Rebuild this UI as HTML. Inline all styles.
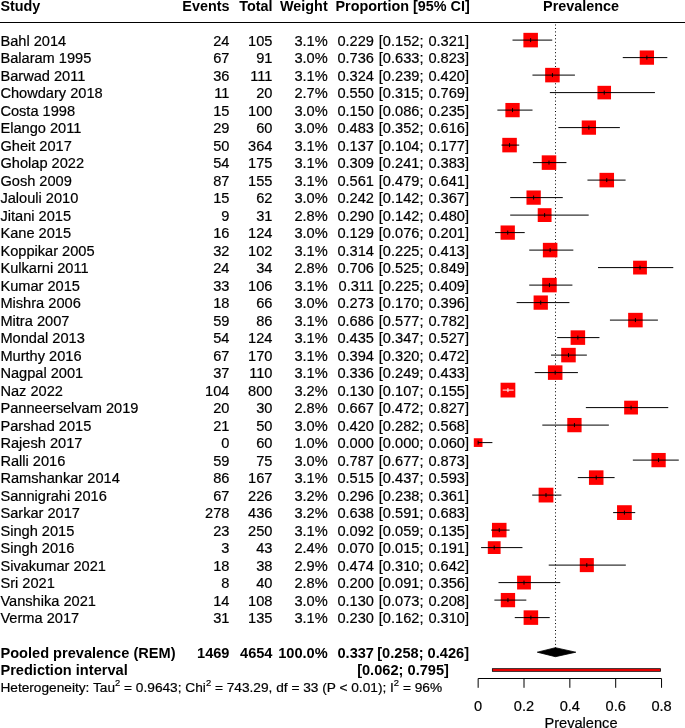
<!DOCTYPE html><html><head><meta charset="utf-8"><title>Forest plot</title>
<style>html,body{margin:0;padding:0;background:#fff}svg{display:block}text{font-family:"Liberation Sans",Arial,Helvetica,sans-serif;font-size:14.62px;fill:#000;stroke:#000;stroke-width:.2px}.b{font-weight:bold;font-size:15.1px;stroke:none}.e{text-anchor:end}.m{text-anchor:middle}</style></head><body>
<svg width="685" height="728" viewBox="0 0 685 728">
<rect width="685" height="728" fill="#fff"/>
<text class="b" transform="translate(0.4 10.8) scale(0.953 1)">Study</text>
<text class="b e" transform="translate(229.5 10.8) scale(0.953 1)">Events</text>
<text class="b e" transform="translate(272.5 10.8) scale(0.953 1)">Total</text>
<text class="b e" transform="translate(327.7 10.8) scale(0.953 1)">Weight</text>
<text class="b" transform="translate(335.5 10.8) scale(0.953 1)">Proportion [95% CI]</text>
<text class="b m" transform="translate(581 10.8) scale(0.953 1)">Prevalence</text>
<rect x="0" y="22" width="685" height="1" fill="#000"/>
<line x1="555.5" y1="24.5" x2="555.5" y2="648" stroke="#000" stroke-width="1" stroke-dasharray="1 2.46"/>
<text x="0.4" y="45.70">Bahl 2014</text>
<text class="e" x="229.5" y="45.70">24</text>
<text class="e" x="272.5" y="45.70">105</text>
<text class="e" x="327.7" y="45.70">3.1%</text>
<text class="e" x="374" y="45.70">0.229</text>
<text class="e" x="423.5" y="45.70">[0.152;</text>
<text class="e" x="469" y="45.70">0.321]</text>
<line x1="513.00" y1="40.10" x2="551.74" y2="40.10" stroke="#000" stroke-width="1" stroke-linecap="square"/>
<rect x="523.39" y="32.84" width="14.53" height="14.53" fill="#f00"/>
<line x1="523.39" y1="40.10" x2="537.91" y2="40.10" stroke="#000" stroke-width="1" opacity="1"/>
<line x1="530.65" y1="38.10" x2="530.65" y2="42.10" stroke="#000" stroke-width="1"/>
<text x="0.4" y="63.20">Balaram 1995</text>
<text class="e" x="229.5" y="63.20">67</text>
<text class="e" x="272.5" y="63.20">91</text>
<text class="e" x="327.7" y="63.20">3.0%</text>
<text class="e" x="374" y="63.20">0.736</text>
<text class="e" x="423.5" y="63.20">[0.633;</text>
<text class="e" x="469" y="63.20">0.823]</text>
<line x1="623.27" y1="57.60" x2="666.82" y2="57.60" stroke="#000" stroke-width="1" stroke-linecap="square"/>
<rect x="639.73" y="50.46" width="14.29" height="14.29" fill="#f00"/>
<line x1="639.73" y1="57.60" x2="654.02" y2="57.60" stroke="#000" stroke-width="1" opacity="1"/>
<line x1="646.88" y1="55.60" x2="646.88" y2="59.60" stroke="#000" stroke-width="1"/>
<text x="0.4" y="80.70">Barwad 2011</text>
<text class="e" x="229.5" y="80.70">36</text>
<text class="e" x="272.5" y="80.70">111</text>
<text class="e" x="327.7" y="80.70">3.1%</text>
<text class="e" x="374" y="80.70">0.324</text>
<text class="e" x="423.5" y="80.70">[0.239;</text>
<text class="e" x="469" y="80.70">0.420]</text>
<line x1="532.94" y1="75.10" x2="574.43" y2="75.10" stroke="#000" stroke-width="1" stroke-linecap="square"/>
<rect x="545.16" y="67.84" width="14.53" height="14.53" fill="#f00"/>
<line x1="545.16" y1="75.10" x2="559.69" y2="75.10" stroke="#000" stroke-width="1" opacity="1"/>
<line x1="552.43" y1="73.10" x2="552.43" y2="77.10" stroke="#000" stroke-width="1"/>
<text x="0.4" y="98.20">Chowdary 2018</text>
<text class="e" x="229.5" y="98.20">11</text>
<text class="e" x="272.5" y="98.20">20</text>
<text class="e" x="327.7" y="98.20">2.7%</text>
<text class="e" x="374" y="98.20">0.550</text>
<text class="e" x="423.5" y="98.20">[0.315;</text>
<text class="e" x="469" y="98.20">0.769]</text>
<line x1="550.36" y1="92.60" x2="654.44" y2="92.60" stroke="#000" stroke-width="1" stroke-linecap="square"/>
<rect x="597.46" y="85.82" width="13.56" height="13.56" fill="#f00"/>
<line x1="597.46" y1="92.60" x2="611.02" y2="92.60" stroke="#000" stroke-width="1" opacity="1"/>
<line x1="604.24" y1="90.60" x2="604.24" y2="94.60" stroke="#000" stroke-width="1"/>
<text x="0.4" y="115.70">Costa 1998</text>
<text class="e" x="229.5" y="115.70">15</text>
<text class="e" x="272.5" y="115.70">100</text>
<text class="e" x="327.7" y="115.70">3.0%</text>
<text class="e" x="374" y="115.70">0.150</text>
<text class="e" x="423.5" y="115.70">[0.086;</text>
<text class="e" x="469" y="115.70">0.235]</text>
<line x1="497.87" y1="110.10" x2="532.02" y2="110.10" stroke="#000" stroke-width="1" stroke-linecap="square"/>
<rect x="505.39" y="102.96" width="14.29" height="14.29" fill="#f00"/>
<line x1="505.39" y1="110.10" x2="519.68" y2="110.10" stroke="#000" stroke-width="1" opacity="1"/>
<line x1="512.54" y1="108.10" x2="512.54" y2="112.10" stroke="#000" stroke-width="1"/>
<text x="0.4" y="133.20">Elango 2011</text>
<text class="e" x="229.5" y="133.20">29</text>
<text class="e" x="272.5" y="133.20">60</text>
<text class="e" x="327.7" y="133.20">3.0%</text>
<text class="e" x="374" y="133.20">0.483</text>
<text class="e" x="423.5" y="133.20">[0.352;</text>
<text class="e" x="469" y="133.20">0.616]</text>
<line x1="558.85" y1="127.60" x2="619.37" y2="127.60" stroke="#000" stroke-width="1" stroke-linecap="square"/>
<rect x="581.73" y="120.46" width="14.29" height="14.29" fill="#f00"/>
<line x1="581.73" y1="127.60" x2="596.02" y2="127.60" stroke="#000" stroke-width="1" opacity="1"/>
<line x1="588.88" y1="125.60" x2="588.88" y2="129.60" stroke="#000" stroke-width="1"/>
<text x="0.4" y="150.70">Gheit 2017</text>
<text class="e" x="229.5" y="150.70">50</text>
<text class="e" x="272.5" y="150.70">364</text>
<text class="e" x="327.7" y="150.70">3.1%</text>
<text class="e" x="374" y="150.70">0.137</text>
<text class="e" x="423.5" y="150.70">[0.104;</text>
<text class="e" x="469" y="150.70">0.177]</text>
<line x1="501.99" y1="145.10" x2="518.73" y2="145.10" stroke="#000" stroke-width="1" stroke-linecap="square"/>
<rect x="502.29" y="137.84" width="14.53" height="14.53" fill="#f00"/>
<line x1="502.29" y1="145.10" x2="516.82" y2="145.10" stroke="#000" stroke-width="1" opacity="1"/>
<line x1="509.56" y1="143.10" x2="509.56" y2="147.10" stroke="#000" stroke-width="1"/>
<text x="0.4" y="168.20">Gholap 2022</text>
<text class="e" x="229.5" y="168.20">54</text>
<text class="e" x="272.5" y="168.20">175</text>
<text class="e" x="327.7" y="168.20">3.1%</text>
<text class="e" x="374" y="168.20">0.309</text>
<text class="e" x="423.5" y="168.20">[0.241;</text>
<text class="e" x="469" y="168.20">0.383]</text>
<line x1="533.40" y1="162.60" x2="565.95" y2="162.60" stroke="#000" stroke-width="1" stroke-linecap="square"/>
<rect x="541.73" y="155.34" width="14.53" height="14.53" fill="#f00"/>
<line x1="541.73" y1="162.60" x2="556.25" y2="162.60" stroke="#000" stroke-width="1" opacity="1"/>
<line x1="548.99" y1="160.60" x2="548.99" y2="164.60" stroke="#000" stroke-width="1"/>
<text x="0.4" y="185.70">Gosh 2009</text>
<text class="e" x="229.5" y="185.70">87</text>
<text class="e" x="272.5" y="185.70">155</text>
<text class="e" x="327.7" y="185.70">3.1%</text>
<text class="e" x="374" y="185.70">0.561</text>
<text class="e" x="423.5" y="185.70">[0.479;</text>
<text class="e" x="469" y="185.70">0.641]</text>
<line x1="587.96" y1="180.10" x2="625.10" y2="180.10" stroke="#000" stroke-width="1" stroke-linecap="square"/>
<rect x="599.50" y="172.84" width="14.53" height="14.53" fill="#f00"/>
<line x1="599.50" y1="180.10" x2="614.02" y2="180.10" stroke="#000" stroke-width="1" opacity="1"/>
<line x1="606.76" y1="178.10" x2="606.76" y2="182.10" stroke="#000" stroke-width="1"/>
<text x="0.4" y="203.20">Jalouli 2010</text>
<text class="e" x="229.5" y="203.20">15</text>
<text class="e" x="272.5" y="203.20">62</text>
<text class="e" x="327.7" y="203.20">3.0%</text>
<text class="e" x="374" y="203.20">0.242</text>
<text class="e" x="423.5" y="203.20">[0.142;</text>
<text class="e" x="469" y="203.20">0.367]</text>
<line x1="510.70" y1="197.60" x2="562.28" y2="197.60" stroke="#000" stroke-width="1" stroke-linecap="square"/>
<rect x="526.48" y="190.46" width="14.29" height="14.29" fill="#f00"/>
<line x1="526.48" y1="197.60" x2="540.77" y2="197.60" stroke="#000" stroke-width="1" opacity="1"/>
<line x1="533.63" y1="195.60" x2="533.63" y2="199.60" stroke="#000" stroke-width="1"/>
<text x="0.4" y="220.70">Jitani 2015</text>
<text class="e" x="229.5" y="220.70">9</text>
<text class="e" x="272.5" y="220.70">31</text>
<text class="e" x="327.7" y="220.70">2.8%</text>
<text class="e" x="374" y="220.70">0.290</text>
<text class="e" x="423.5" y="220.70">[0.142;</text>
<text class="e" x="469" y="220.70">0.480]</text>
<line x1="510.70" y1="215.10" x2="588.19" y2="215.10" stroke="#000" stroke-width="1" stroke-linecap="square"/>
<rect x="537.73" y="208.20" width="13.80" height="13.80" fill="#f00"/>
<line x1="537.73" y1="215.10" x2="551.53" y2="215.10" stroke="#000" stroke-width="1" opacity="1"/>
<line x1="544.63" y1="213.10" x2="544.63" y2="217.10" stroke="#000" stroke-width="1"/>
<text x="0.4" y="238.20">Kane 2015</text>
<text class="e" x="229.5" y="238.20">16</text>
<text class="e" x="272.5" y="238.20">124</text>
<text class="e" x="327.7" y="238.20">3.0%</text>
<text class="e" x="374" y="238.20">0.129</text>
<text class="e" x="423.5" y="238.20">[0.076;</text>
<text class="e" x="469" y="238.20">0.201]</text>
<line x1="495.57" y1="232.60" x2="524.23" y2="232.60" stroke="#000" stroke-width="1" stroke-linecap="square"/>
<rect x="500.58" y="225.46" width="14.29" height="14.29" fill="#f00"/>
<line x1="500.58" y1="232.60" x2="514.87" y2="232.60" stroke="#000" stroke-width="1" opacity="1"/>
<line x1="507.72" y1="230.60" x2="507.72" y2="234.60" stroke="#000" stroke-width="1"/>
<text x="0.4" y="255.70">Koppikar 2005</text>
<text class="e" x="229.5" y="255.70">32</text>
<text class="e" x="272.5" y="255.70">102</text>
<text class="e" x="327.7" y="255.70">3.1%</text>
<text class="e" x="374" y="255.70">0.314</text>
<text class="e" x="423.5" y="255.70">[0.225;</text>
<text class="e" x="469" y="255.70">0.413]</text>
<line x1="529.73" y1="250.10" x2="572.83" y2="250.10" stroke="#000" stroke-width="1" stroke-linecap="square"/>
<rect x="542.87" y="242.84" width="14.53" height="14.53" fill="#f00"/>
<line x1="542.87" y1="250.10" x2="557.40" y2="250.10" stroke="#000" stroke-width="1" opacity="1"/>
<line x1="550.13" y1="248.10" x2="550.13" y2="252.10" stroke="#000" stroke-width="1"/>
<text x="0.4" y="273.20">Kulkarni 2011</text>
<text class="e" x="229.5" y="273.20">24</text>
<text class="e" x="272.5" y="273.20">34</text>
<text class="e" x="327.7" y="273.20">2.8%</text>
<text class="e" x="374" y="273.20">0.706</text>
<text class="e" x="423.5" y="273.20">[0.525;</text>
<text class="e" x="469" y="273.20">0.849]</text>
<line x1="598.51" y1="267.60" x2="672.78" y2="267.60" stroke="#000" stroke-width="1" stroke-linecap="square"/>
<rect x="633.10" y="260.70" width="13.80" height="13.80" fill="#f00"/>
<line x1="633.10" y1="267.60" x2="646.90" y2="267.60" stroke="#000" stroke-width="1" opacity="1"/>
<line x1="640.00" y1="265.60" x2="640.00" y2="269.60" stroke="#000" stroke-width="1"/>
<text x="0.4" y="290.70">Kumar 2015</text>
<text class="e" x="229.5" y="290.70">33</text>
<text class="e" x="272.5" y="290.70">106</text>
<text class="e" x="327.7" y="290.70">3.1%</text>
<text class="e" x="374" y="290.70">0.311</text>
<text class="e" x="423.5" y="290.70">[0.225;</text>
<text class="e" x="469" y="290.70">0.409]</text>
<line x1="529.73" y1="285.10" x2="571.91" y2="285.10" stroke="#000" stroke-width="1" stroke-linecap="square"/>
<rect x="542.18" y="277.84" width="14.53" height="14.53" fill="#f00"/>
<line x1="542.18" y1="285.10" x2="556.71" y2="285.10" stroke="#000" stroke-width="1" opacity="1"/>
<line x1="549.45" y1="283.10" x2="549.45" y2="287.10" stroke="#000" stroke-width="1"/>
<text x="0.4" y="308.20">Mishra 2006</text>
<text class="e" x="229.5" y="308.20">18</text>
<text class="e" x="272.5" y="308.20">66</text>
<text class="e" x="327.7" y="308.20">3.0%</text>
<text class="e" x="374" y="308.20">0.273</text>
<text class="e" x="423.5" y="308.20">[0.170;</text>
<text class="e" x="469" y="308.20">0.396]</text>
<line x1="517.12" y1="302.60" x2="568.93" y2="302.60" stroke="#000" stroke-width="1" stroke-linecap="square"/>
<rect x="533.59" y="295.46" width="14.29" height="14.29" fill="#f00"/>
<line x1="533.59" y1="302.60" x2="547.88" y2="302.60" stroke="#000" stroke-width="1" opacity="1"/>
<line x1="540.74" y1="300.60" x2="540.74" y2="304.60" stroke="#000" stroke-width="1"/>
<text x="0.4" y="325.70">Mitra 2007</text>
<text class="e" x="229.5" y="325.70">59</text>
<text class="e" x="272.5" y="325.70">86</text>
<text class="e" x="327.7" y="325.70">3.1%</text>
<text class="e" x="374" y="325.70">0.686</text>
<text class="e" x="423.5" y="325.70">[0.577;</text>
<text class="e" x="469" y="325.70">0.782]</text>
<line x1="610.43" y1="320.10" x2="657.42" y2="320.10" stroke="#000" stroke-width="1" stroke-linecap="square"/>
<rect x="628.15" y="312.84" width="14.53" height="14.53" fill="#f00"/>
<line x1="628.15" y1="320.10" x2="642.68" y2="320.10" stroke="#000" stroke-width="1" opacity="1"/>
<line x1="635.42" y1="318.10" x2="635.42" y2="322.10" stroke="#000" stroke-width="1"/>
<text x="0.4" y="343.20">Mondal 2013</text>
<text class="e" x="229.5" y="343.20">54</text>
<text class="e" x="272.5" y="343.20">124</text>
<text class="e" x="327.7" y="343.20">3.1%</text>
<text class="e" x="374" y="343.20">0.435</text>
<text class="e" x="423.5" y="343.20">[0.347;</text>
<text class="e" x="469" y="343.20">0.527]</text>
<line x1="557.70" y1="337.60" x2="598.96" y2="337.60" stroke="#000" stroke-width="1" stroke-linecap="square"/>
<rect x="570.61" y="330.34" width="14.53" height="14.53" fill="#f00"/>
<line x1="570.61" y1="337.60" x2="585.14" y2="337.60" stroke="#000" stroke-width="1" opacity="1"/>
<line x1="577.87" y1="335.60" x2="577.87" y2="339.60" stroke="#000" stroke-width="1"/>
<text x="0.4" y="360.70">Murthy 2016</text>
<text class="e" x="229.5" y="360.70">67</text>
<text class="e" x="272.5" y="360.70">170</text>
<text class="e" x="327.7" y="360.70">3.1%</text>
<text class="e" x="374" y="360.70">0.394</text>
<text class="e" x="423.5" y="360.70">[0.320;</text>
<text class="e" x="469" y="360.70">0.472]</text>
<line x1="551.51" y1="355.10" x2="586.36" y2="355.10" stroke="#000" stroke-width="1" stroke-linecap="square"/>
<rect x="561.21" y="347.84" width="14.53" height="14.53" fill="#f00"/>
<line x1="561.21" y1="355.10" x2="575.74" y2="355.10" stroke="#000" stroke-width="1" opacity="1"/>
<line x1="568.47" y1="353.10" x2="568.47" y2="357.10" stroke="#000" stroke-width="1"/>
<text x="0.4" y="378.20">Nagpal 2001</text>
<text class="e" x="229.5" y="378.20">37</text>
<text class="e" x="272.5" y="378.20">110</text>
<text class="e" x="327.7" y="378.20">3.1%</text>
<text class="e" x="374" y="378.20">0.336</text>
<text class="e" x="423.5" y="378.20">[0.249;</text>
<text class="e" x="469" y="378.20">0.433]</text>
<line x1="535.23" y1="372.60" x2="577.42" y2="372.60" stroke="#000" stroke-width="1" stroke-linecap="square"/>
<rect x="547.92" y="365.34" width="14.53" height="14.53" fill="#f00"/>
<line x1="547.92" y1="372.60" x2="562.44" y2="372.60" stroke="#000" stroke-width="1" opacity="1"/>
<line x1="555.18" y1="370.60" x2="555.18" y2="374.60" stroke="#000" stroke-width="1"/>
<text x="0.4" y="395.70">Naz 2022</text>
<text class="e" x="229.5" y="395.70">104</text>
<text class="e" x="272.5" y="395.70">800</text>
<text class="e" x="327.7" y="395.70">3.2%</text>
<text class="e" x="374" y="395.70">0.130</text>
<text class="e" x="423.5" y="395.70">[0.107;</text>
<text class="e" x="469" y="395.70">0.155]</text>
<line x1="502.68" y1="390.10" x2="513.68" y2="390.10" stroke="#000" stroke-width="1" stroke-linecap="square"/>
<rect x="500.57" y="382.72" width="14.76" height="14.76" fill="#f00"/>
<line x1="502.68" y1="390.10" x2="513.68" y2="390.10" stroke="#fff" stroke-width="1"/>
<line x1="507.95" y1="388.10" x2="507.95" y2="392.10" stroke="#fff" stroke-width="1"/>
<text x="0.4" y="413.20">Panneerselvam 2019</text>
<text class="e" x="229.5" y="413.20">20</text>
<text class="e" x="272.5" y="413.20">30</text>
<text class="e" x="327.7" y="413.20">2.8%</text>
<text class="e" x="374" y="413.20">0.667</text>
<text class="e" x="423.5" y="413.20">[0.472;</text>
<text class="e" x="469" y="413.20">0.827]</text>
<line x1="586.36" y1="407.60" x2="667.74" y2="407.60" stroke="#000" stroke-width="1" stroke-linecap="square"/>
<rect x="624.16" y="400.70" width="13.80" height="13.80" fill="#f00"/>
<line x1="624.16" y1="407.60" x2="637.96" y2="407.60" stroke="#000" stroke-width="1" opacity="1"/>
<line x1="631.06" y1="405.60" x2="631.06" y2="409.60" stroke="#000" stroke-width="1"/>
<text x="0.4" y="430.70">Parshad 2015</text>
<text class="e" x="229.5" y="430.70">21</text>
<text class="e" x="272.5" y="430.70">50</text>
<text class="e" x="327.7" y="430.70">3.0%</text>
<text class="e" x="374" y="430.70">0.420</text>
<text class="e" x="423.5" y="430.70">[0.282;</text>
<text class="e" x="469" y="430.70">0.568]</text>
<line x1="542.80" y1="425.10" x2="608.36" y2="425.10" stroke="#000" stroke-width="1" stroke-linecap="square"/>
<rect x="567.29" y="417.96" width="14.29" height="14.29" fill="#f00"/>
<line x1="567.29" y1="425.10" x2="581.58" y2="425.10" stroke="#000" stroke-width="1" opacity="1"/>
<line x1="574.43" y1="423.10" x2="574.43" y2="427.10" stroke="#000" stroke-width="1"/>
<text x="0.4" y="448.20">Rajesh 2017</text>
<text class="e" x="229.5" y="448.20">0</text>
<text class="e" x="272.5" y="448.20">60</text>
<text class="e" x="327.7" y="448.20">1.0%</text>
<text class="e" x="374" y="448.20">0.000</text>
<text class="e" x="423.5" y="448.20">[0.000;</text>
<text class="e" x="469" y="448.20">0.060]</text>
<line x1="478.15" y1="442.60" x2="491.90" y2="442.60" stroke="#000" stroke-width="1" stroke-linecap="square"/>
<rect x="473.80" y="438.25" width="8.70" height="8.70" fill="#f00"/>
<line x1="478.15" y1="442.60" x2="482.50" y2="442.60" stroke="#000" stroke-width="1" opacity="1"/>
<line x1="478.15" y1="440.60" x2="478.15" y2="444.60" stroke="#000" stroke-width="1"/>
<text x="0.4" y="465.70">Ralli 2016</text>
<text class="e" x="229.5" y="465.70">59</text>
<text class="e" x="272.5" y="465.70">75</text>
<text class="e" x="327.7" y="465.70">3.0%</text>
<text class="e" x="374" y="465.70">0.787</text>
<text class="e" x="423.5" y="465.70">[0.677;</text>
<text class="e" x="469" y="465.70">0.873]</text>
<line x1="633.35" y1="460.10" x2="678.29" y2="460.10" stroke="#000" stroke-width="1" stroke-linecap="square"/>
<rect x="651.43" y="452.96" width="14.29" height="14.29" fill="#f00"/>
<line x1="651.43" y1="460.10" x2="665.71" y2="460.10" stroke="#000" stroke-width="1" opacity="1"/>
<line x1="658.57" y1="458.10" x2="658.57" y2="462.10" stroke="#000" stroke-width="1"/>
<text x="0.4" y="483.20">Ramshankar 2014</text>
<text class="e" x="229.5" y="483.20">86</text>
<text class="e" x="272.5" y="483.20">167</text>
<text class="e" x="327.7" y="483.20">3.1%</text>
<text class="e" x="374" y="483.20">0.515</text>
<text class="e" x="423.5" y="483.20">[0.437;</text>
<text class="e" x="469" y="483.20">0.593]</text>
<line x1="578.33" y1="477.60" x2="614.10" y2="477.60" stroke="#000" stroke-width="1" stroke-linecap="square"/>
<rect x="588.95" y="470.34" width="14.53" height="14.53" fill="#f00"/>
<line x1="588.95" y1="477.60" x2="603.48" y2="477.60" stroke="#000" stroke-width="1" opacity="1"/>
<line x1="596.21" y1="475.60" x2="596.21" y2="479.60" stroke="#000" stroke-width="1"/>
<text x="0.4" y="500.70">Sannigrahi 2016</text>
<text class="e" x="229.5" y="500.70">67</text>
<text class="e" x="272.5" y="500.70">226</text>
<text class="e" x="327.7" y="500.70">3.2%</text>
<text class="e" x="374" y="500.70">0.296</text>
<text class="e" x="423.5" y="500.70">[0.238;</text>
<text class="e" x="469" y="500.70">0.361]</text>
<line x1="532.71" y1="495.10" x2="560.91" y2="495.10" stroke="#000" stroke-width="1" stroke-linecap="square"/>
<rect x="538.63" y="487.72" width="14.76" height="14.76" fill="#f00"/>
<line x1="538.63" y1="495.10" x2="553.39" y2="495.10" stroke="#000" stroke-width="1" opacity="1"/>
<line x1="546.01" y1="493.10" x2="546.01" y2="497.10" stroke="#000" stroke-width="1"/>
<text x="0.4" y="518.20">Sarkar 2017</text>
<text class="e" x="229.5" y="518.20">278</text>
<text class="e" x="272.5" y="518.20">436</text>
<text class="e" x="327.7" y="518.20">3.2%</text>
<text class="e" x="374" y="518.20">0.638</text>
<text class="e" x="423.5" y="518.20">[0.591;</text>
<text class="e" x="469" y="518.20">0.683]</text>
<line x1="613.64" y1="512.60" x2="634.73" y2="512.60" stroke="#000" stroke-width="1" stroke-linecap="square"/>
<rect x="617.03" y="505.22" width="14.76" height="14.76" fill="#f00"/>
<line x1="617.03" y1="512.60" x2="631.79" y2="512.60" stroke="#000" stroke-width="1" opacity="1"/>
<line x1="624.41" y1="510.60" x2="624.41" y2="514.60" stroke="#000" stroke-width="1"/>
<text x="0.4" y="535.70">Singh 2015</text>
<text class="e" x="229.5" y="535.70">23</text>
<text class="e" x="272.5" y="535.70">250</text>
<text class="e" x="327.7" y="535.70">3.1%</text>
<text class="e" x="374" y="535.70">0.092</text>
<text class="e" x="423.5" y="535.70">[0.059;</text>
<text class="e" x="469" y="535.70">0.135]</text>
<line x1="491.68" y1="530.10" x2="509.10" y2="530.10" stroke="#000" stroke-width="1" stroke-linecap="square"/>
<rect x="491.98" y="522.84" width="14.53" height="14.53" fill="#f00"/>
<line x1="491.98" y1="530.10" x2="506.50" y2="530.10" stroke="#000" stroke-width="1" opacity="1"/>
<line x1="499.24" y1="528.10" x2="499.24" y2="532.10" stroke="#000" stroke-width="1"/>
<text x="0.4" y="553.20">Singh 2016</text>
<text class="e" x="229.5" y="553.20">3</text>
<text class="e" x="272.5" y="553.20">43</text>
<text class="e" x="327.7" y="553.20">2.4%</text>
<text class="e" x="374" y="553.20">0.070</text>
<text class="e" x="423.5" y="553.20">[0.015;</text>
<text class="e" x="469" y="553.20">0.191]</text>
<line x1="481.59" y1="547.60" x2="521.94" y2="547.60" stroke="#000" stroke-width="1" stroke-linecap="square"/>
<rect x="487.81" y="541.21" width="12.78" height="12.78" fill="#f00"/>
<line x1="487.81" y1="547.60" x2="500.59" y2="547.60" stroke="#000" stroke-width="1" opacity="1"/>
<line x1="494.20" y1="545.60" x2="494.20" y2="549.60" stroke="#000" stroke-width="1"/>
<text x="0.4" y="570.70">Sivakumar 2021</text>
<text class="e" x="229.5" y="570.70">18</text>
<text class="e" x="272.5" y="570.70">38</text>
<text class="e" x="327.7" y="570.70">2.9%</text>
<text class="e" x="374" y="570.70">0.474</text>
<text class="e" x="423.5" y="570.70">[0.310;</text>
<text class="e" x="469" y="570.70">0.642]</text>
<line x1="549.22" y1="565.10" x2="625.33" y2="565.10" stroke="#000" stroke-width="1" stroke-linecap="square"/>
<rect x="579.79" y="558.08" width="14.05" height="14.05" fill="#f00"/>
<line x1="579.79" y1="565.10" x2="593.84" y2="565.10" stroke="#000" stroke-width="1" opacity="1"/>
<line x1="586.81" y1="563.10" x2="586.81" y2="567.10" stroke="#000" stroke-width="1"/>
<text x="0.4" y="588.20">Sri 2021</text>
<text class="e" x="229.5" y="588.20">8</text>
<text class="e" x="272.5" y="588.20">40</text>
<text class="e" x="327.7" y="588.20">2.8%</text>
<text class="e" x="374" y="588.20">0.200</text>
<text class="e" x="423.5" y="588.20">[0.091;</text>
<text class="e" x="469" y="588.20">0.356]</text>
<line x1="499.01" y1="582.60" x2="559.76" y2="582.60" stroke="#000" stroke-width="1" stroke-linecap="square"/>
<rect x="517.10" y="575.70" width="13.80" height="13.80" fill="#f00"/>
<line x1="517.10" y1="582.60" x2="530.90" y2="582.60" stroke="#000" stroke-width="1" opacity="1"/>
<line x1="524.00" y1="580.60" x2="524.00" y2="584.60" stroke="#000" stroke-width="1"/>
<text x="0.4" y="605.70">Vanshika 2021</text>
<text class="e" x="229.5" y="605.70">14</text>
<text class="e" x="272.5" y="605.70">108</text>
<text class="e" x="327.7" y="605.70">3.0%</text>
<text class="e" x="374" y="605.70">0.130</text>
<text class="e" x="423.5" y="605.70">[0.073;</text>
<text class="e" x="469" y="605.70">0.208]</text>
<line x1="494.89" y1="600.10" x2="525.83" y2="600.10" stroke="#000" stroke-width="1" stroke-linecap="square"/>
<rect x="500.81" y="592.96" width="14.29" height="14.29" fill="#f00"/>
<line x1="500.81" y1="600.10" x2="515.10" y2="600.10" stroke="#000" stroke-width="1" opacity="1"/>
<line x1="507.95" y1="598.10" x2="507.95" y2="602.10" stroke="#000" stroke-width="1"/>
<text x="0.4" y="623.20">Verma 2017</text>
<text class="e" x="229.5" y="623.20">31</text>
<text class="e" x="272.5" y="623.20">135</text>
<text class="e" x="327.7" y="623.20">3.1%</text>
<text class="e" x="374" y="623.20">0.230</text>
<text class="e" x="423.5" y="623.20">[0.162;</text>
<text class="e" x="469" y="623.20">0.310]</text>
<line x1="515.29" y1="617.60" x2="549.22" y2="617.60" stroke="#000" stroke-width="1" stroke-linecap="square"/>
<rect x="523.61" y="610.34" width="14.53" height="14.53" fill="#f00"/>
<line x1="523.61" y1="617.60" x2="538.14" y2="617.60" stroke="#000" stroke-width="1" opacity="1"/>
<line x1="530.88" y1="615.60" x2="530.88" y2="619.60" stroke="#000" stroke-width="1"/>
<text class="b" transform="translate(0.4 657.5) scale(0.967 1)">Pooled prevalence (REM)</text>
<text class="b e" transform="translate(229.5 657.5) scale(0.967 1)">1469</text>
<text class="b e" transform="translate(272.5 657.5) scale(0.967 1)">4654</text>
<text class="b e" transform="translate(327.7 657.5) scale(0.967 1)">100.0%</text>
<text class="b e" transform="translate(374 657.5) scale(0.967 1)">0.337</text>
<text class="b e" transform="translate(423.5 657.5) scale(0.967 1)">[0.258;</text>
<text class="b e" transform="translate(469 657.5) scale(0.967 1)">0.426]</text>
<text class="b" transform="translate(0.4 675.3) scale(0.967 1)">Prediction interval</text>
<text class="b e" transform="translate(403.40 675.3) scale(0.967 1)">[0.062;</text>
<text class="b e" transform="translate(448.90 675.3) scale(0.967 1)">0.795]</text>
<text x="0.4" y="692.3" style="font-size:13.7px">Heterogeneity: Tau<tspan dy="-6.5" style="font-size:9.4px">2</tspan><tspan dy="6.5"> = 0.9643; Chi</tspan><tspan dy="-6.5" style="font-size:9.4px">2</tspan><tspan dy="6.5"> = 743.29, df = 33 (P &lt; 0.01); I</tspan><tspan dy="-6.5" style="font-size:9.4px">2</tspan><tspan dy="6.5"> = 96%</tspan></text>
<polygon points="537.30,652.2 555.41,647.7 575.81,652.2 555.41,656.7" fill="#000" stroke="#000" stroke-width="0.8"/>
<rect x="492.36" y="668.7" width="168.04" height="2.6" fill="#f00" stroke="#000" stroke-width="0.8"/>
<path d="M478.15 687.8V678.5H661.55V687.8" fill="none" stroke="#000" stroke-width="1"/>
<text class="m" x="478.15" y="710.6">0</text>
<line x1="524.00" y1="678.5" x2="524.00" y2="687.8" stroke="#000" stroke-width="1"/>
<text class="m" x="524.00" y="710.6">0.2</text>
<line x1="569.85" y1="678.5" x2="569.85" y2="687.8" stroke="#000" stroke-width="1"/>
<text class="m" x="569.85" y="710.6">0.4</text>
<line x1="615.70" y1="678.5" x2="615.70" y2="687.8" stroke="#000" stroke-width="1"/>
<text class="m" x="615.70" y="710.6">0.6</text>
<text class="m" x="661.55" y="710.6">0.8</text>
<text class="m" x="581" y="728">Prevalence</text>
</svg></body></html>
